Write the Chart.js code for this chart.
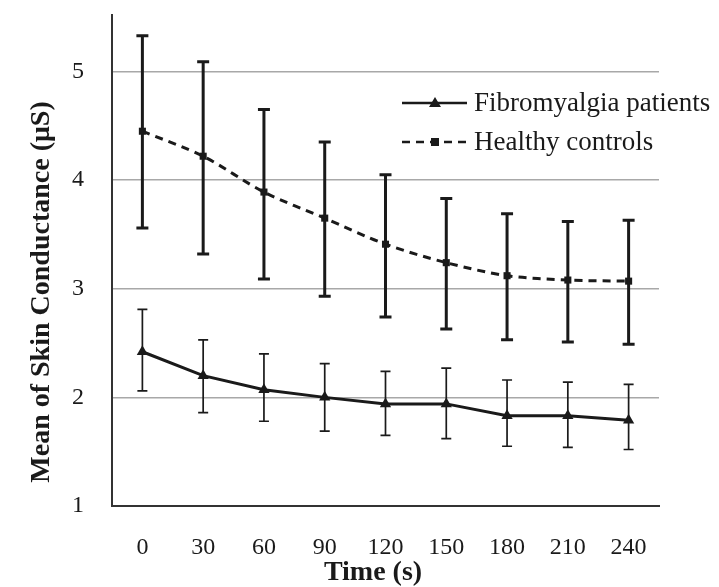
<!DOCTYPE html>
<html>
<head>
<meta charset="utf-8">
<script src="https://cdn.jsdelivr.net/npm/chart.js@4/dist/chart.umd.min.js"></script>
<style>
  html, body { margin:0; padding:0; background:#fff; }
  #wrap { width:719px; height:587px; }
</style>
</head>
<body>
<div id="wrap"><canvas id="chart" width="719" height="587"></canvas></div>
<script>
// time points (s)
const timeLabels = ['0','30','60','90','120','150','180','210','240'];

// Fibromyalgia patients: mean and error bar ends
const fibroMean  = [2.42, 2.20, 2.07, 2.00, 1.94, 1.94, 1.83, 1.83, 1.79];
const fibroUpper = [2.81, 2.53, 2.40, 2.31, 2.24, 2.27, 2.16, 2.14, 2.12];
const fibroLower = [2.06, 1.86, 1.78, 1.69, 1.65, 1.62, 1.55, 1.54, 1.52];

// Healthy controls
const healthyMean  = [4.45, 4.22, 3.89, 3.65, 3.41, 3.24, 3.12, 3.08, 3.07];
const healthyUpper = [5.33, 5.09, 4.65, 4.35, 4.05, 3.83, 3.69, 3.62, 3.63];
const healthyLower = [3.56, 3.32, 3.09, 2.93, 2.74, 2.63, 2.53, 2.51, 2.49];

const yTicks = [1, 2, 3, 4, 5];

const SERIF = '"Liberation Serif", "DejaVu Serif", serif';
const INK = '#1a1a1a';

// error bars, drawn through the chart's own scales
const errorBars = {
  id: 'errorBars',
  afterDatasetsDraw(chart){
    const ctx = chart.ctx;
    const y = chart.scales.y;
    chart.data.datasets.forEach((ds, i)=>{
      const meta = chart.getDatasetMeta(i);
      ctx.save();
      ctx.strokeStyle = INK;
      ctx.lineWidth = ds.errWidth;
      meta.data.forEach((pt, j)=>{
        const top = y.getPixelForValue(ds.upper[j]);
        const bot = y.getPixelForValue(ds.lower[j]);
        const c = ds.capHalf;
        ctx.beginPath();
        ctx.moveTo(pt.x, top); ctx.lineTo(pt.x, bot);
        ctx.moveTo(pt.x-c, top); ctx.lineTo(pt.x+c, top);
        ctx.moveTo(pt.x-c, bot); ctx.lineTo(pt.x+c, bot);
        ctx.stroke();
      });
      ctx.restore();
    });
  }
};

// axis titles and legend box in the plot
const extras = {
  id: 'extras',
  afterDraw(chart){
    const ctx = chart.ctx;
    ctx.save();
    ctx.fillStyle = INK;
    ctx.font = 'bold 28px ' + SERIF;
    ctx.textAlign = 'center';
    ctx.textBaseline = 'middle';
    ctx.fillText('Time (s)', 373, 573);
    ctx.translate(42, 292);
    ctx.rotate(-Math.PI/2);
    ctx.fillText('Mean of Skin Conductance (\u03bcS)', 0, 0);
    ctx.restore();

    // legend
    const rows = [
      { ds: chart.data.datasets[0], y: 103 },
      { ds: chart.data.datasets[1], y: 142 }
    ];
    ctx.save();
    rows.forEach(r=>{
      ctx.strokeStyle = INK;
      ctx.fillStyle = INK;
      ctx.lineWidth = 2.5;
      ctx.setLineDash(r.ds.borderDash || []);
      ctx.beginPath(); ctx.moveTo(402, r.y); ctx.lineTo(467, r.y); ctx.stroke();
      ctx.setLineDash([]);
      if (r.ds.pointStyle === 'triangle'){
        ctx.beginPath();
        ctx.moveTo(435, r.y-6); ctx.lineTo(441, r.y+4); ctx.lineTo(429, r.y+4); ctx.closePath(); ctx.fill();
      } else {
        ctx.fillRect(431, r.y-4, 8, 8);
      }
      ctx.font = '27px ' + SERIF;
      ctx.textAlign = 'left';
      ctx.textBaseline = 'middle';
      ctx.fillText(r.ds.label, 474, r.y+1);
    });
    ctx.restore();
  }
};

new Chart(document.getElementById('chart'), {
  type: 'line',
  data: {
    labels: timeLabels,
    datasets: [
      {
        label: 'Fibromyalgia patients',
        data: fibroMean, upper: fibroUpper, lower: fibroLower,
        borderColor: INK, backgroundColor: INK, borderWidth: 3,
        pointStyle: 'triangle', pointRadius: 6.5, pointBorderWidth: 0,
        tension: 0, errWidth: 1.7, capHalf: 5
      },
      {
        label: 'Healthy controls',
        data: healthyMean, upper: healthyUpper, lower: healthyLower,
        borderColor: INK, backgroundColor: INK, borderWidth: 3,
        borderDash: [8, 6],
        pointStyle: 'rect', pointRadius: 5, pointBorderWidth: 0,
        tension: 0.3, errWidth: 3, capHalf: 6
      }
    ]
  },
  options: {
    responsive: false,
    animation: false,
    layout: { padding: { left: 0, right: 60, top: 15, bottom: 0 } },
    plugins: { legend: { display: false }, tooltip: { enabled: false } },
    scales: {
      x: {
        offset: true,
        grid: { display: false, drawTicks: false },
        border: { display: true, color: '#333', width: 2 },
        ticks: { color: INK, font: { family: SERIF, size: 24 }, padding: 27, maxRotation: 0 },
        afterFit(s){ s.height = 81; }
      },
      y: {
        min: 1, max: 5.52,
        afterBuildTicks(s){ s.ticks = yTicks.map(v=>({ value: v })); },
        grid: {
          drawTicks: false,
          color: (c)=> c.tick && c.tick.value === 1 ? 'rgba(0,0,0,0)' : '#a8a8a8',
          lineWidth: 1.5
        },
        border: { display: true, color: '#333', width: 2 },
        ticks: { color: INK, font: { family: SERIF, size: 24 }, padding: 28 },
        // keep the label padding from pushing the plot top down
        afterFit(s){ s.width = 112; s.paddingTop = 0; s.paddingBottom = 0; }
      }
    }
  },
  plugins: [errorBars, extras]
});
</script>
</body>
</html>
